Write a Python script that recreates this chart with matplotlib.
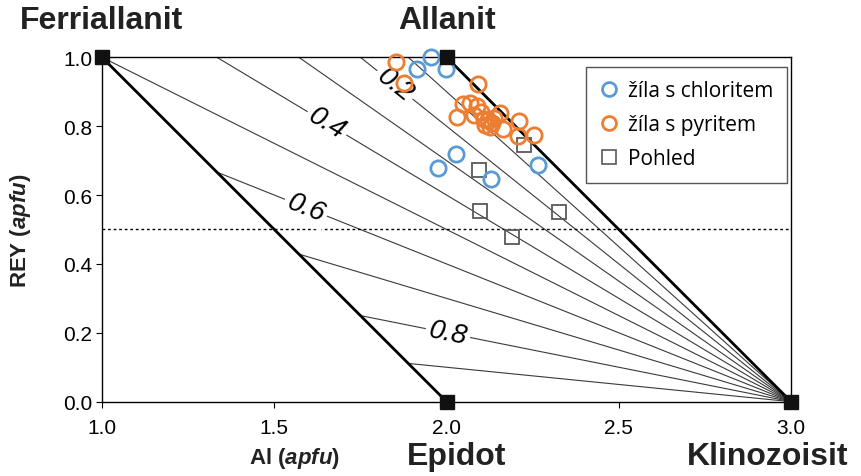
import matplotlib
matplotlib.use("Agg")
import matplotlib.pyplot as plt
from matplotlib.lines import Line2D
import numpy as np

plt.rcParams['font.family'] = ['Liberation Sans', 'DejaVu Sans']
plt.rcParams['mathtext.fontset'] = 'custom'
plt.rcParams['mathtext.it'] = 'Liberation Sans:italic:bold'
plt.rcParams['mathtext.rm'] = 'Liberation Sans:bold'

# ---- data ----
chlorit_al = [1.954, 1.915, 1.997, 2.028, 1.976, 2.128, 2.265]
chlorit_rey = [1.000, 0.966, 0.966, 0.719, 0.679, 0.647, 0.687]

pyrit_al = [1.853, 1.877, 2.091, 2.048, 2.068, 2.089, 2.030, 2.080, 2.100, 2.112,
            2.120, 2.132, 2.138, 2.126, 2.155, 2.164, 2.210, 2.208, 2.254, 2.109]
pyrit_rey = [0.985, 0.925, 0.922, 0.864, 0.867, 0.859, 0.827, 0.832, 0.841, 0.803,
             0.818, 0.809, 0.824, 0.798, 0.838, 0.792, 0.815, 0.771, 0.774, 0.820]

pohled_al = [2.225, 2.093, 2.097, 2.326, 2.190]
pohled_rey = [0.745, 0.673, 0.555, 0.550, 0.478]

end_names = ['Ferriallanit', 'Allanit', 'Epidot', 'Klinozoisit']
end_al = [1.0, 2.0, 2.0, 3.0]
end_rey = [1.0, 1.0, 0.0, 0.0]

fe_ratios = [0.1, 0.2, 0.3, 0.4, 0.5, 0.6, 0.7, 0.8, 0.9]
labelled_ratios = [0.2, 0.4, 0.6, 0.8]
label_al = [1.850, 1.653, 1.592, 2.004]

legend_labels = ['žíla s chloritem', 'žíla s pyritem', 'Pohled']

xticks = [1.0, 1.5, 2.0, 2.5, 3.0]
yticks = [0.0, 0.2, 0.4, 0.6, 0.8, 1.0]

blue = '#5B9BD5'
orange = '#ED7D31'
gray = '#595959'
txtcol = '#222222'

fig = plt.figure(figsize=(8.62, 4.77), dpi=100)
ax = fig.add_axes([0.1183, 0.1558, 0.7995, 0.722])
ax.set_xlim(1.0, 3.0)
ax.set_ylim(0.0, 1.0)

# fan lines of constant Fe3+/Fe(tot)
for r in fe_ratios:
    if r <= 0.5:
        x0, y0 = 3 - 1 / (1 - r), 1.0
    else:
        y0 = (1 - r) / r
        x0 = 2 - y0
    ax.plot([x0, 3.0], [y0, 0.0], color='#3a3a3a', lw=0.8, zorder=2)

# thick boundary lines
ax.plot([end_al[0], end_al[2]], [end_rey[0], end_rey[2]], color='black', lw=2.0, zorder=3)
ax.plot([end_al[1], end_al[3]], [end_rey[1], end_rey[3]], color='black', lw=2.0, zorder=3)

# ratio labels
for r, xa in zip(labelled_ratios, label_al):
    ya = (1 - r) * (3 - xa)
    ang = -np.degrees(np.arctan(1 - r))
    ax.text(xa, ya, f'{r:.1f}', fontsize=20, style='italic', rotation=ang,
            rotation_mode='anchor', ha='center', va='center',
            bbox=dict(facecolor='white', edgecolor='none', pad=2.5), zorder=4)

ax.axhline(0.5, color='black', lw=1.0, ls=(0, (2, 2)), zorder=2)

# data points
ax.plot(pohled_al, pohled_rey, 's', ms=10, mfc='none', mec=gray, mew=1.3, zorder=5)
ax.plot(chlorit_al, chlorit_rey, 'o', ms=11, mfc='none', mec=blue, mew=2.0, zorder=6,
        clip_on=False)
ax.plot(pyrit_al, pyrit_rey, 'o', ms=11, mfc='none', mec=orange, mew=2.0, zorder=6,
        clip_on=False)

# end member squares
ax.plot(end_al, end_rey, 's', ms=10, color='#111111', zorder=7, clip_on=False)

# end member labels
lab_kw = dict(textcoords='offset points', fontsize=23, fontweight='bold',
              va='center', color=txtcol, annotation_clip=False)
ax.annotate(end_names[0], (end_al[0], end_rey[0]), xytext=(0, 27), ha='center', **lab_kw)
ax.annotate(end_names[1], (end_al[1], end_rey[1]), xytext=(0, 27), ha='center', **lab_kw)
ax.annotate(end_names[2], (end_al[2], end_rey[2]), xytext=(7, -39), ha='center', **lab_kw)
ax.annotate(end_names[3], (end_al[3], end_rey[3]), xytext=(41, -39), ha='right', **lab_kw)

# axes styling
ax.set_xticks(xticks)
ax.set_yticks(yticks)
ax.set_xticklabels([f'{v:.1f}' for v in xticks], fontsize=15)
ax.set_yticklabels([f'{v:.1f}' for v in yticks], fontsize=15)
ax.tick_params(axis='both', direction='out', length=4, width=0.8)
ax.tick_params(axis='x', pad=8)
ax.tick_params(axis='y', pad=3)
for s in ax.spines.values():
    s.set_linewidth(1.0)

ax.set_xlabel(r'Al ($apfu$)', fontsize=16, fontweight='bold', color=txtcol)
ax.xaxis.set_label_coords(0.28, -0.125)
ax.set_ylabel(r'REY ($apfu$)', fontsize=16, fontweight='bold', color=txtcol)
ax.yaxis.set_label_coords(-0.10, 0.5)

handles = [
    Line2D([], [], ls='none', marker='o', ms=10, mfc='none', mec=blue, mew=2.0),
    Line2D([], [], ls='none', marker='o', ms=10, mfc='none', mec=orange, mew=2.0),
    Line2D([], [], ls='none', marker='s', ms=10, mfc='none', mec=gray, mew=1.2),
]
leg = ax.legend(handles, legend_labels,
                loc='upper right', bbox_to_anchor=(0.994, 0.972), borderaxespad=0,
                fancybox=False, edgecolor='#555555', framealpha=1,
                prop={'family': ['Open Sans', 'DejaVu Sans'], 'size': 15},
                handletextpad=0.4, handlelength=1.0, labelspacing=0.62,
                borderpad=0.65)
leg.get_frame().set_linewidth(1.0)
leg.set_zorder(10)

fig.savefig('out.png', dpi=100)
